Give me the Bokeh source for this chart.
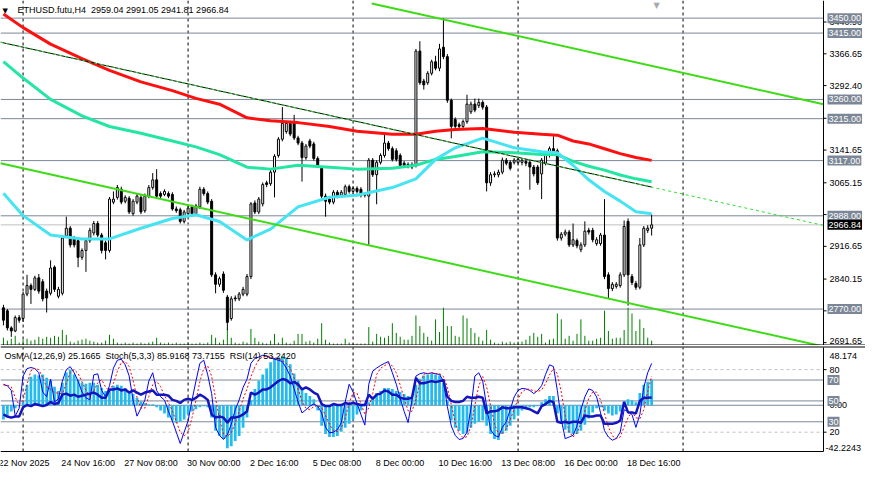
import pandas as pd
from bokeh.plotting import figure
from bokeh.models import Range1d, Label, ColumnDataSource
from bokeh.layouts import column
from bokeh.embed import file_html
from bokeh.resources import INLINE

# ---------------- data ----------------
symbol = "ETHUSD.futu,H4"
first_bar_time = "2025-11-22 04:00"
bar_hours = 4

opens = [2773, 2766, 2726, 2719, 2750, 2748, 2805, 2825, 2816, 2843,
         2834, 2812, 2807, 2868, 2800, 2807, 2941, 2959, 2936, 2930,
         2891, 2907, 2930, 2948, 2970, 2943, 2925, 2907, 3020, 3031,
         3050, 3022, 3029, 2993, 3020, 3031, 3000, 3034, 3054, 3072,
         3040, 3038, 3040, 3038, 3004, 3002, 2975, 2993, 3009, 2993,
         3009, 3050, 3040, 3022, 2850, 2828, 2852, 2798, 2748, 2796,
         2794, 2805, 2805, 2846, 3018, 2997, 3016, 3065, 3063, 3090,
         3129, 3167, 3185, 3204, 3208, 3170, 3158, 3124, 3163, 3156,
         3122, 3099, 3034, 3027, 3020, 3043, 3036, 3038, 3056, 3045,
         3052, 3050, 3036, 3034, 3118, 3084, 3113, 3129, 3158, 3145,
         3140, 3129, 3111, 3108, 3102, 3106, 3373, 3303, 3299, 3321,
         3348, 3333, 3382, 3360, 3258, 3213, 3201, 3197, 3208, 3231,
         3249, 3246, 3253, 3242, 3065, 3084, 3084, 3090, 3118, 3113,
         3113, 3113, 3113, 3115, 3113, 3102, 3102, 3086, 3111, 3129,
         3145, 3140, 2936, 2945, 2950, 2920, 2930, 2909, 2920, 2954,
         2954, 2923, 2923, 2943, 2850, 2818, 2823, 2825, 2850, 2975,
         2846, 2830, 2821, 2920, 2954, 2959.04]
highs = [2780, 2770, 2730, 2755, 2756, 2810, 2850, 2830, 2848, 2852,
         2840, 2818, 2884, 2872, 2822, 2942, 2986, 2964, 2941, 2935,
         2912, 2936, 2960, 2976, 2976, 2948, 2930, 3032, 3045, 3060,
         3056, 3036, 3034, 3027, 3040, 3036, 3040, 3060, 3088, 3097,
         3045, 3050, 3045, 3043, 3010, 3007, 3002, 3011, 3014, 3016,
         3056, 3055, 3045, 3027, 2856, 2846, 2858, 2803, 2800, 2802,
         2810, 2822, 2852, 3020, 3024, 3032, 3066, 3070, 3095, 3132,
         3172, 3242, 3210, 3210, 3224, 3175, 3163, 3156, 3168, 3161,
         3127, 3104, 3040, 3032, 3048, 3048, 3048, 3061, 3061, 3057,
         3057, 3055, 3043, 3123, 3123, 3118, 3134, 3179, 3163, 3150,
         3146, 3134, 3116, 3113, 3113, 3378, 3396, 3308, 3326, 3353,
         3362, 3390, 3450, 3366, 3262, 3218, 3206, 3213, 3271, 3255,
         3262, 3262, 3258, 3247, 3090, 3092, 3096, 3124, 3123, 3118,
         3123, 3125, 3123, 3120, 3118, 3107, 3107, 3123, 3134, 3150,
         3174, 3145, 2950, 2956, 2955, 2970, 2935, 2926, 2975, 2960,
         2960, 2938, 2948, 3027, 2856, 2833, 2833, 2856, 2977, 2982,
         2852, 2836, 2936, 2964, 2966, 2991.05]
lows = [2732, 2720, 2705, 2716, 2738, 2740, 2800, 2782, 2812, 2806,
        2788, 2762, 2802, 2810, 2795, 2802, 2936, 2914, 2914, 2868,
        2885, 2857, 2925, 2942, 2938, 2900, 2886, 2902, 3015, 3026,
        3015, 3017, 2992, 2988, 3015, 2992, 2995, 3029, 3049, 3029,
        3029, 3034, 3029, 3000, 2995, 2970, 2970, 2988, 2987, 2988,
        3004, 3035, 3015, 2845, 2807, 2822, 2808, 2721, 2743, 2788,
        2789, 2800, 2800, 2840, 2992, 2992, 3010, 3055, 3058, 3031,
        3124, 3162, 3180, 3174, 3165, 3153, 3068, 3119, 3146, 3117,
        3101, 3029, 2986, 3015, 3015, 3029, 3031, 3033, 3040, 3040,
        3040, 3031, 3031, 2920, 3079, 3015, 3108, 3124, 3140, 3115,
        3115, 3101, 3101, 3099, 3097, 3101, 3294, 3283, 3294, 3316,
        3328, 3326, 3354, 3252, 3169, 3190, 3190, 3190, 3203, 3226,
        3230, 3240, 3236, 3045, 3058, 3078, 3078, 3085, 3106, 3094,
        3108, 3108, 3106, 3104, 3049, 3080, 3060, 3027, 3106, 3124,
        3128, 2930, 2930, 2940, 2915, 2915, 2912, 2903, 2915, 2944,
        2926, 2918, 2918, 2840, 2794, 2812, 2818, 2820, 2845, 2778,
        2826, 2815, 2816, 2915, 2948, 2941.81]
closes = [2744, 2726, 2719, 2750, 2744, 2805, 2825, 2816, 2843, 2812,
          2794, 2796, 2866, 2816, 2816, 2936, 2959, 2920, 2920, 2891,
          2907, 2930, 2954, 2970, 2943, 2907, 2907, 3027, 3027, 3054,
          3020, 3031, 2997, 3022, 3034, 2997, 3034, 3054, 3072, 3034,
          3034, 3045, 3034, 3004, 3000, 2975, 2997, 3006, 2993, 3011,
          3050, 3040, 3020, 2850, 2828, 2841, 2814, 2739, 2794, 2794,
          2805, 2816, 2846, 3016, 2997, 3027, 3061, 3061, 3090, 3127,
          3167, 3204, 3204, 3179, 3170, 3158, 3124, 3151, 3151, 3122,
          3106, 3034, 3022, 3020, 3043, 3034, 3043, 3056, 3045, 3052,
          3045, 3036, 3038, 3118, 3084, 3113, 3129, 3158, 3145, 3120,
          3120, 3106, 3106, 3104, 3108, 3373, 3299, 3294, 3321, 3348,
          3333, 3378, 3360, 3258, 3197, 3197, 3197, 3208, 3249, 3249,
          3235, 3253, 3242, 3065, 3084, 3086, 3090, 3118, 3111, 3099,
          3118, 3120, 3118, 3111, 3102, 3086, 3065, 3118, 3129, 3145,
          3133, 2936, 2945, 2950, 2920, 2932, 2918, 2920, 2952, 2950,
          2932, 2932, 2943, 2846, 2818, 2828, 2828, 2850, 2963, 2850,
          2832, 2821, 2920, 2959, 2959, 2966.84]
tick_volume_k = [8, 5, 7, 10, 3, 6, 7, 5, 6, 9,
                 7, 9, 8, 10, 9, 16, 11, 4, 3, 5,
                 6, 7, 5, 4, 3, 3, 5, 11, 7, 3,
                 2, 3, 2, 3, 2, 3, 2, 3, 4, 8,
                 3, 2, 3, 2, 3, 2, 2, 3, 2, 2,
                 3, 2, 3, 11, 8, 3, 6, 17, 8, 3,
                 2, 4, 3, 17, 8, 4, 3, 2, 5, 12,
                 3, 8, 3, 2, 5, 12, 12, 4, 5, 3,
                 7, 23, 6, 3, 2, 2, 2, 7, 3, 2,
                 2, 2, 2, 19, 4, 12, 9, 8, 10, 23,
                 13, 9, 6, 6, 10, 31, 20, 13, 9, 5,
                 27, 14, 39, 20, 20, 10, 9, 31, 28, 18,
                 13, 9, 5, 16, 6, 3, 2, 4, 3, 4,
                 3, 4, 4, 6, 10, 13, 9, 12, 3, 6,
                 7, 33, 27, 7, 10, 5, 12, 27, 10, 5,
                 5, 7, 8, 36, 15, 7, 8, 8, 16, 39,
                 33, 15, 27, 18, 8, 5]
osma = [-14, -10, -6, -3, -1, 3, 20, 28, 30, 29,
        30, 27, 24, 18, 14, 22, 32, 35, 30, 25,
        22, 21, 22, 22, 20, 17, 14, 16, 19, 20,
        19, 17, 14, 11, 7, 4, 2, 1, 1, -2,
        -5, -8, -12, -15, -17, -16, -14, -9, -6, -4,
        -2, -1, -2, -12, -25, -30, -33, -42, -40, -35,
        -30, -22, -12, 5, 16, 24, 30, 36, 42, 46,
        47, 48, 46, 40, 31, 24, 17, 12, 9, 6,
        -5, -20, -28, -31, -31, -30, -26, -22, -18, -14,
        -9, -5, -1, 3, 8, 12, 14, 17, 17, 16,
        14, 13, 11, 9, 7, 20, 26, 29, 30, 31,
        30, 29, 22, 5, -15, -22, -25, -28, -27, -22,
        -18, -16, -15, -20, -28, -33, -34, -28, -25, -20,
        -14, -10, -5, -3, -2, -2, -1, 3, 6, 9,
        9, -8, -18, -24, -27, -28, -28, -25, -19, -13,
        -7, -3, -2, -5, -8, -10, -9, -6, 4, 6,
        5, 3, 12, 20, 23, 25.1665]
stoch_main = [65.5, 64.6, 60, 35.4, 43, 73.8, 81, 82, 81, 77,
              58.5, 54, 70.8, 49, 52, 69, 80, 82.8, 77, 69,
              58.5, 53, 51, 75, 76, 60, 54, 64.6, 81.5, 89,
              90, 84.6, 74, 50.8, 35.4, 43, 50.8, 69, 77, 60,
              54, 50.8, 40, 30.8, 20, 9.2, 20, 30.8, 50.8, 69,
              86, 89, 75, 57, 24.6, 17, 13, 17.5, 27.7, 41.5,
              50.8, 63, 70.8, 86, 90.8, 92, 93.8, 93, 91.4, 90,
              89, 87.7, 81.5, 73.8, 61.5, 49, 38.5, 41.5, 45, 47,
              45, 38.5, 24.6, 19.4, 20, 22.5, 29, 49, 66, 58.5,
              47.7, 37, 26.8, 66, 78.5, 81.5, 84, 86, 87.7, 77,
              66, 52.3, 40, 29.2, 50.8, 73.8, 76, 77, 76, 77,
              76, 75.4, 69, 44.6, 26, 17, 13, 14, 20, 43,
              73.8, 77, 69, 44.6, 22.5, 17, 15.4, 24.6, 30, 41.5,
              53.8, 60, 62, 61.5, 60, 57, 60, 64.6, 75.4, 84.6,
              83, 60, 32.3, 13.8, 15.4, 17, 26, 41.5, 53.8, 61.5,
              60, 53.8, 38.5, 21.5, 15.4, 12.3, 14, 20, 41.5, 40,
              37, 24.6, 37, 63, 77, 85.9168]
stoch_signal = [66, 65, 63.4, 53.3, 46.1, 50.7, 65.9, 78.9, 81.3, 80,
                72.2, 63.2, 61.1, 57.9, 57.3, 56.7, 67, 77.3, 79.9, 76.3,
                68.2, 60.2, 54.2, 59.7, 67.3, 70.3, 63.3, 59.5, 66.7, 78.4,
                86.8, 87.9, 82.9, 69.8, 53.4, 43.1, 43.1, 54.3, 65.6, 68.7,
                63.7, 54.9, 48.3, 40.5, 30.3, 20, 16.4, 20, 33.9, 50.2,
                68.6, 81.3, 83.3, 73.7, 52.2, 32.9, 18.2, 15.8, 19.4, 28.9,
                40, 51.8, 61.5, 73.3, 82.5, 89.6, 92.2, 92.9, 92.7, 91.5,
                90.1, 88.9, 86.1, 81, 72.3, 61.4, 49.7, 43, 41.7, 44.5,
                45.7, 43.5, 36, 27.5, 21.3, 20.6, 23.8, 33.5, 48, 57.8,
                57.4, 47.7, 37.2, 43.3, 57.1, 75.3, 81.3, 83.8, 85.9, 83.6,
                76.9, 65.1, 52.8, 40.5, 40, 51.3, 66.9, 75.6, 76.3, 76.7,
                76.3, 76.1, 73.5, 63, 46.5, 29.2, 18.7, 14.7, 15.7, 25.7,
                45.6, 64.6, 73.3, 63.5, 45.4, 28, 18.3, 19, 23.3, 32,
                41.8, 51.8, 58.6, 61.2, 61.2, 59.5, 59, 60.5, 66.7, 74.9,
                81, 75.9, 58.4, 35.4, 20.5, 15.4, 19.5, 28.2, 40.4, 52.3,
                58.4, 58.4, 50.8, 37.9, 25.1, 16.4, 13.9, 15.4, 25.2, 33.8,
                39.5, 33.9, 32.9, 41.5, 59, 73.7155]
rsi = [37, 35, 34, 35, 35, 44, 46, 45, 47, 46,
       45, 46, 49, 47, 48, 56, 57, 55, 56, 54,
       55, 56, 57, 58, 56, 53, 53, 61, 61, 62,
       60, 61, 58, 60, 58, 56, 58, 59, 60, 56,
       56, 56, 55, 51, 50, 48, 51, 52, 51, 53,
       56, 54, 51, 37, 34, 35, 34, 29, 34, 34,
       35, 37, 40, 58, 56, 58, 61, 61, 63, 66,
       69, 71, 70, 67, 68, 66, 61, 63, 61, 58,
       56, 47, 45, 45, 47, 46, 46, 48, 47, 48,
       47, 46, 46, 56, 52, 56, 57, 60, 59, 56,
       56, 53, 52, 52, 53, 72, 67, 67, 68, 69,
       68, 69, 70, 54, 50, 49, 49, 50, 54, 53,
       53, 54, 53, 38, 40, 40, 41, 44, 43, 43,
       44, 44, 44, 43, 42, 40, 38, 45, 47, 50,
       49, 30, 29, 30, 29, 30, 30, 29, 36, 35,
       35, 36, 36, 28, 28, 28, 29, 31, 49, 39,
       39, 38, 50, 53, 53, 53.242]

# moving averages, read at these bars
ma_bars = [0, 5, 12, 20, 27, 35, 43, 49, 55, 62, 68, 75, 83, 90,
           99, 105, 110, 115, 122, 130, 137, 141, 145, 149, 153, 157, 161, 165]
ma_red = [3459.5, 3427.8, 3389.3, 3355.3, 3328.1, 3300.9, 3280.6, 3262.4, 3248.8, 3217.1,
          3210.3, 3205.8, 3196.7, 3185.4, 3178.6, 3178.6, 3185.4, 3189.9, 3192.2, 3183.2,
          3178.6, 3176.4, 3162.8, 3156.0, 3144.7, 3133.3, 3124.3, 3117.5]
ma_teal = [3348.5, 3310.0, 3260.2, 3221.7, 3196.7, 3181.0, 3162.8, 3149.2, 3131.1, 3101.6,
           3097.1, 3106.2, 3101.6, 3097.1, 3099.4, 3106.2, 3119.8, 3126.5, 3137.9, 3135.6,
           3131.1, 3131.1, 3115.2, 3103.9, 3094.8, 3083.5, 3074.4, 3067.6]
ma_cyan = [3040.5, 2988.4, 2943.1, 2934.0, 2934.0, 2958.9, 2981.6, 2990.6, 2974.8, 2931.7,
           2956.7, 3008.8, 3031.4, 3035.9, 3054.0, 3074.4, 3119.8, 3146.9, 3169.6, 3146.9,
           3137.9, 3135.6, 3106.2, 3072.2, 3045.0, 3022.3, 2997.4, 2992.9]

# trend lines (bar, price) end points
upper_channel_bars = [93.75, 208.75]
upper_channel_prices = [3484.4, 3248.8]
lower_channel_bars = [-0.75, 208.75]
lower_channel_prices = [3110.7, 2682.6]
mid_line_bars = [-0.75, 208.75]
mid_line_prices = [3393.8, 2965.7]
mid_line_solid_bars = [-0.75, 165]
mid_line_solid_prices = [3393.8, 3055.2]

levels = [3450, 3415, 3260, 3215, 3117, 2988, 2770]
price_ticks = [2691.65, 2765.90, 2840.15, 2916.65, 2990.90, 3065.15, 3141.65,
               3215.90, 3292.40, 3366.65, 3440.90]
osc_dashed_levels = [80, 20]
osc_solid_levels = [70, 50, 30]
osma_scale_labels = [48.174, 0.0, -42.2243]

date_tick_times = ["2025-11-22 00:00", "2025-11-24 16:00", "2025-11-27 08:00", "2025-11-30 00:00",
                   "2025-12-02 16:00", "2025-12-05 08:00", "2025-12-08 00:00", "2025-12-10 16:00",
                   "2025-12-13 08:00", "2025-12-16 00:00", "2025-12-18 16:00"]
date_tick_labels = ["22 Nov 2025", "24 Nov 16:00", "27 Nov 08:00", "30 Nov 00:00", "2 Dec 16:00",
                    "5 Dec 08:00", "8 Dec 00:00", "10 Dec 16:00", "13 Dec 08:00", "16 Dec 00:00",
                    "18 Dec 16:00"]
week_separators = ["2025-11-23", "2025-11-30", "2025-12-07", "2025-12-14", "2025-12-21"]

# ---------------- layout / style ----------------
W = 865
FRAME_W = 823            # width of the chart area; the rest is the price scale
PRICE_H = 345
IND_H = 128
IND_TOP = 2              # px above indicator pane
IND_BOTTOM = 22          # px below indicator pane (time scale)
FONT = "Liberation Sans"
FS = "9px"
X_START, X_END = -0.75, 208.75
PRICE_MIN, PRICE_MAX = 2684.9, 3491.2
OSC_MIN, OSC_MAX = 1.5, 101.2
OSMA_MIN, OSMA_MAX = -45.2, 56.5
VOL_MAX = 356
GREY = "#7B8796"

bar_px = FRAME_W / (X_END - X_START)
X_FULL_END = X_START + W / bar_px
TICK = 3 / bar_px
ind_pane_h = IND_H - IND_TOP - IND_BOTTOM


def padded(lo, hi, px_top, px_bottom, pane_px):
    per = (hi - lo) / pane_px
    return Range1d(lo - px_bottom * per, hi + px_top * per)


osc_range = padded(OSC_MIN, OSC_MAX, IND_TOP, IND_BOTTOM, ind_pane_h)
osma_range = padded(OSMA_MIN, OSMA_MAX, IND_TOP, IND_BOTTOM, ind_pane_h)
price_per_px = (PRICE_MAX - PRICE_MIN) / PRICE_H

n = len(closes)
t0 = pd.Timestamp(first_bar_time)


def bar_pos(ts):
    return (pd.Timestamp(ts) - t0) / pd.Timedelta(hours=bar_hours)


idx = list(range(n))
src = ColumnDataSource(dict(
    x=idx, high=highs, low=lows,
    body_top=[max(o, c) for o, c in zip(opens, closes)],
    body_bot=[min(o, c) for o, c in zip(opens, closes)],
    fill=["white" if c >= o else "black" for o, c in zip(opens, closes)],
    vol=tick_volume_k, osma=osma, stoch_main=stoch_main,
    stoch_signal=stoch_signal, rsi=rsi))

x_range = Range1d(X_START, X_FULL_END)


def base_fig(height, y_range):
    f = figure(width=W, height=height, x_range=x_range, y_range=y_range,
               output_backend="svg", toolbar_location=None,
               x_axis_location=None, y_axis_location=None, min_border=0)
    f.xgrid.visible = False
    f.ygrid.visible = False
    f.outline_line_color = None
    f.background_fill_color = "white"
    f.border_fill_color = "white"
    return f


def hline(fig, y, color, dash="solid", x1=X_END, range_name="default"):
    fig.segment(x0=X_START, y0=y, x1=x1, y1=y, line_color=color, line_width=1,
                line_dash=dash, y_range_name=range_name)


def right_text(fig, y, text, range_name="default", color="black", bg=None, x_offset=6, pad=0,
               baseline="middle"):
    fig.add_layout(Label(x=X_END, y=y, x_offset=x_offset, text=text, y_range_name=range_name,
                         text_font=FONT, text_font_size=FS, text_color=color,
                         text_baseline=baseline, background_fill_color=bg, padding=pad))


# ---------------- price pane ----------------
p = base_fig(PRICE_H, Range1d(PRICE_MIN, PRICE_MAX))
p.extra_y_ranges = {"vol": Range1d(0, VOL_MAX)}

for sep in week_separators:
    p.segment(x0=bar_pos(sep), y0=PRICE_MIN, x1=bar_pos(sep), y1=PRICE_MAX,
              line_color="black", line_dash="3 3", line_width=1)
for lvl in levels:
    hline(p, lvl, GREY)
hline(p, closes[-1], "#C0C0C0")

p.segment(x0="x", y0=0, x1="x", y1="vol", y_range_name="vol", line_color="#008000",
          line_width=1, source=src)
p.segment(x0="x", y0="low", x1="x", y1="high", line_color="black", line_width=1, source=src)
p.vbar(x="x", top="body_top", bottom="body_bot", width=0.5, fill_color="fill",
       line_color="black", line_width=1, source=src)

p.line(ma_bars, ma_red, line_color="#FF1010", line_width=3)
p.line(ma_bars, ma_teal, line_color="#22E6A2", line_width=3)
p.line(ma_bars, ma_cyan, line_color="#44E4F2", line_width=3)

p.line(upper_channel_bars, upper_channel_prices, line_color="#3CDC14", line_width=2)
p.line(lower_channel_bars, lower_channel_prices, line_color="#3CDC14", line_width=2)
p.line(mid_line_solid_bars, mid_line_solid_prices, line_color="black", line_width=1)
p.line(mid_line_bars, mid_line_prices, line_color="#2EE02E", line_width=1, line_dash="3 3")

# borders and price scale
p.segment(x0=X_END, y0=PRICE_MIN, x1=X_END, y1=PRICE_MAX, line_color="black", line_width=1)
p.segment(x0=X_START, y0=PRICE_MIN + 0.5 * price_per_px, x1=X_FULL_END,
          y1=PRICE_MIN + 0.5 * price_per_px, line_color="black", line_width=1)
p.segment(x0=[X_END] * len(price_ticks), y0=price_ticks, x1=[X_END + TICK] * len(price_ticks),
          y1=price_ticks, line_color="black", line_width=1)
for t in price_ticks:
    if (t - PRICE_MIN) / price_per_px < 7:
        # lowest label sits on the pane's bottom edge
        right_text(p, PRICE_MIN + 1.5 * price_per_px, f"{t:.2f}", baseline="bottom")
    else:
        right_text(p, t, f"{t:.2f}")
for lvl in levels:
    right_text(p, lvl, f"{lvl:.2f}", color="white", bg=GREY, x_offset=4, pad=(1, 2))
right_text(p, closes[-1], f"{closes[-1]:.2f}", color="white", bg="black", x_offset=4, pad=(1, 2))

p.add_layout(Label(x=2, y=PRICE_H - 6, x_units="screen", y_units="screen", text="\u25BC",
                   text_font="DejaVu Sans", text_font_size="7px", text_color="black",
                   text_baseline="top"))
p.add_layout(Label(x=17, y=PRICE_H - 4, x_units="screen", y_units="screen",
                   text=f"{symbol}\u00a0 {opens[-1]:.2f} {highs[-1]:.2f} {lows[-1]:.2f} {closes[-1]:.2f}",
                   text_font=FONT, text_font_size=FS, text_color="black", text_baseline="top"))
p.add_layout(Label(x=656, y=PRICE_H, x_units="screen", y_units="screen", text="\u25BC",
                   text_font="DejaVu Sans", text_font_size="8px", text_color="#A8A8A8",
                   text_baseline="top", text_align="center"))

# ---------------- indicator pane ----------------
q = base_fig(IND_H, osc_range)
q.extra_y_ranges = {"osma": osma_range}

for sep in week_separators:
    q.segment(x0=bar_pos(sep), y0=OSC_MIN, x1=bar_pos(sep), y1=OSC_MAX,
              line_color="black", line_dash="3 3", line_width=1)
for lv in osc_dashed_levels:
    hline(q, lv, "#C0C0C0", dash="3 3")
for lv in osc_solid_levels:
    hline(q, lv, GREY)
hline(q, 0, GREY, range_name="osma")

q.vbar(x="x", top="osma", bottom=0, width=0.7, y_range_name="osma", fill_color="#22BBEE",
       line_color=None, source=src)
q.line("x", "stoch_main", line_color="#0000FF", line_width=1, source=src)
q.line("x", "stoch_signal", line_color="#FF0000", line_width=1, line_dash="2 2", source=src)
q.line("x", "rsi", line_color="#1414C0", line_width=2.5, source=src)

# borders
ind_px = (OSC_MAX - OSC_MIN) / ind_pane_h
q.segment(x0=X_START, y0=OSC_MAX + 0.5 * ind_px, x1=X_FULL_END, y1=OSC_MAX + 0.5 * ind_px,
          line_color="black", line_width=1)
q.segment(x0=X_START, y0=OSC_MIN, x1=X_END, y1=OSC_MIN, line_color="black", line_width=1)
q.segment(x0=X_END, y0=OSC_MIN, x1=X_END, y1=OSC_MAX, line_color="black", line_width=1)
q.segment(x0=[X_END, X_END], y0=osc_dashed_levels, x1=[X_END + TICK, X_END + TICK],
          y1=osc_dashed_levels, line_color="black", line_width=1)

right_text(q, osma_scale_labels[0], f"{osma_scale_labels[0]:.3f}", "osma")
right_text(q, osma_scale_labels[1], f"{osma_scale_labels[1]:.2f}", "osma")
right_text(q, osma_scale_labels[2], f"{osma_scale_labels[2]:.4f}", "osma", x_offset=2)
for lv in osc_dashed_levels:
    right_text(q, lv, f"{lv}")
for lv in osc_solid_levels:
    right_text(q, lv, f"{lv}", color="white", bg=GREY, x_offset=4, pad=(1, 2))

q.add_layout(Label(x=4, y=IND_H - IND_TOP - 3, x_units="screen", y_units="screen",
                   text=(f"OsMA(12,26,9) {osma[-1]:.4f}\u00a0 Stoch(5,3,3) {stoch_main[-1]:.4f} "
                         f"{stoch_signal[-1]:.4f}\u00a0 RSI(14) {rsi[-1]:.4f}"),
                   text_font=FONT, text_font_size=FS, text_color="black", text_baseline="top"))

for t, lab in zip(date_tick_times, date_tick_labels):
    q.add_layout(Label(x=bar_pos(t), y=IND_BOTTOM - 6, y_units="screen", x_offset=-1, text=lab,
                       text_font=FONT, text_font_size=FS, text_color="black",
                       text_baseline="top", text_align="left"))

layout = column(p, q, spacing=0)
open("out.html", "w").write(file_html(layout, INLINE))
